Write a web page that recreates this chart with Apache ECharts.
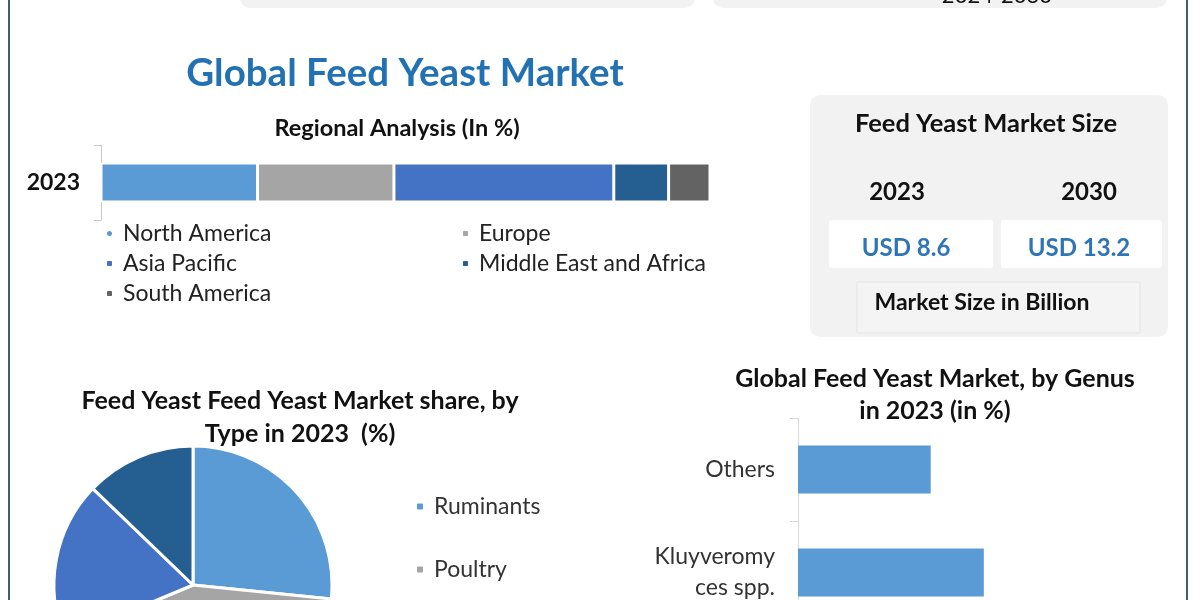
<!DOCTYPE html>
<html>
<head>
<meta charset="utf-8">
<script src="https://cdn.jsdelivr.net/npm/echarts@6/dist/echarts.min.js"></script>
<style>
html,body{margin:0;padding:0;background:#fff;overflow:hidden;}
#c{width:1200px;height:720px;}
</style>
</head>
<body>
<div id="c"></div>
<script>
// ---- data ----
var regionYears = ['2023'];
var regionNames = ['North America', 'Europe', 'Asia Pacific', 'Middle East and Africa', 'South America'];
var regionValues = [25.7, 22.4, 36.1, 9.0, 6.8];
var regionColors = ['#5b9bd5', '#a5a5a5', '#4472c4', '#255e91', '#636363'];

var marketYears = ['2023', '2030'];
var marketValues = [8.6, 13.2];

var typeNames = ['Ruminants', 'Poultry', 'Aquaculture', 'Pets'];
var typeValues = [26.6, 42.1, 18.5, 12.8];
var typeColors = ['#5b9bd5', '#a5a5a5', '#4472c4', '#255e91'];

var genusNames = ['Kluyveromy\nces spp.', 'Others'];
var genusValues = [30.8, 22.0];

var FONT = 'Lato, "Open Sans", sans-serif';

var chart = echarts.init(document.getElementById('c'), null, {renderer: 'canvas'});

var regionSeries = regionNames.map(function (n, i) {
  return {
    name: n, type: 'bar', stack: 'r', xAxisIndex: 0, yAxisIndex: 0,
    data: [regionValues[i]], barWidth: 39,
    itemStyle: {color: regionColors[i], borderColor: '#fff', borderWidth: 1.5},
    silent: true
  };
});

var legendText = {fontFamily: FONT, fontSize: 23, color: '#222', padding: [0, 0, 0, 5]};

var option = {
  backgroundColor: '#ffffff',
  animation: false,
  textStyle: {fontFamily: FONT},
  title: [
    {text: 'Global Feed Yeast Market', left: 400, top: 49, textAlign: 'center',
     textStyle: {fontFamily: FONT, fontWeight: 'bold', fontSize: 38.5, color: '#2271b3'}},
    {text: 'Regional Analysis (In %)', left: 392, top: 111, textAlign: 'center',
     textStyle: {fontFamily: FONT, fontWeight: 'bold', fontSize: 23.5, color: '#111'}},
    {text: 'Feed Yeast Feed Yeast Market share, by', left: 295, top: 383, textAlign: 'center',
     textStyle: {fontFamily: FONT, fontWeight: 'bold', fontSize: 25, color: '#111'}},
    {text: 'Type in 2023  (%)', left: 295, top: 416, textAlign: 'center',
     textStyle: {fontFamily: FONT, fontWeight: 'bold', fontSize: 25, color: '#111'}},
    {text: 'Global Feed Yeast Market, by Genus', left: 930, top: 361, textAlign: 'center',
     textStyle: {fontFamily: FONT, fontWeight: 'bold', fontSize: 25, color: '#111'}},
    {text: 'in 2023 (in %)', left: 930, top: 393, textAlign: 'center',
     textStyle: {fontFamily: FONT, fontWeight: 'bold', fontSize: 25, color: '#111'}}
  ],
  legend: [
    {data: [{name: 'North America', icon: 'circle'}, 'Asia Pacific', 'South America'],
     orient: 'vertical', left: 100, top: 217, itemWidth: 7, itemHeight: 7, itemGap: 7,
     selectedMode: false, textStyle: legendText},
    {data: ['Europe', 'Middle East and Africa'],
     orient: 'vertical', left: 456, top: 217, itemWidth: 7, itemHeight: 7, itemGap: 7,
     selectedMode: false, textStyle: legendText},
    {data: ['Ruminants', 'Poultry'],
     orient: 'vertical', left: 410, top: 490, itemWidth: 8, itemHeight: 8, itemGap: 40,
     selectedMode: false, textStyle: {fontFamily: FONT, fontSize: 23, color: '#333', padding: [0, 0, 0, 5]}}
  ],
  grid: [
    {left: 101, width: 609, top: 145, height: 75, containLabel: false},
    {left: 798, width: 362, top: 418, height: 206, containLabel: false}
  ],
  xAxis: [
    {type: 'value', gridIndex: 0, min: 0, max: 100, show: false},
    {type: 'value', gridIndex: 1, min: 0, max: 60, show: false}
  ],
  yAxis: [
    {type: 'category', gridIndex: 0, data: regionYears,
     axisLine: {show: true, lineStyle: {color: '#c8c8c8', width: 1}},
     axisTick: {show: true, length: 7, lineStyle: {color: '#c8c8c8'}},
     axisLabel: {margin: 21, fontFamily: FONT, fontWeight: 'bold', fontSize: 23, color: '#111'},
     splitLine: {show: false}},
    {type: 'category', gridIndex: 1, data: genusNames,
     axisLine: {show: true, lineStyle: {color: '#d9d9d9', width: 1}},
     axisTick: {show: true, length: 8, lineStyle: {color: '#d9d9d9'}},
     axisLabel: {margin: 23, fontFamily: FONT, fontSize: 23, color: '#333', lineHeight: 31, align: 'right',
                 padding: [6, 0, 0, 0]},
     splitLine: {show: false}}
  ],
  series: regionSeries.concat([
    {name: 'Genus', type: 'bar', xAxisIndex: 1, yAxisIndex: 1, data: genusValues,
     barWidth: 48, itemStyle: {color: '#5b9bd5'}, silent: true},
    {name: 'Type', type: 'pie', center: [193, 585], radius: [0, 139], startAngle: 90, clockwise: true,
     data: typeNames.map(function (n, i) { return {name: n, value: typeValues[i], itemStyle: {color: typeColors[i]}}; }),
     label: {show: false}, labelLine: {show: false}, silent: true,
     itemStyle: {borderColor: '#ffffff', borderWidth: 3}}
  ]),
  graphic: [
    // page border lines
    {type: 'line', shape: {x1: 9, y1: 0, x2: 9, y2: 720}, style: {stroke: '#3f5f63', lineWidth: 2}},
    {type: 'line', shape: {x1: 1187, y1: 0, x2: 1187, y2: 720}, style: {stroke: '#3f5f63', lineWidth: 2}},
    // cut-off top boxes
    {type: 'rect', shape: {x: 240, y: -30, width: 455, height: 38, r: 10}, style: {fill: '#f2f2f2'}},
    {type: 'rect', shape: {x: 713, y: -30, width: 454, height: 38, r: 10}, style: {fill: '#f2f2f2'}},
    {type: 'text', style: {text: '2024-2030', x: 997, y: 7, textAlign: 'center', textVerticalAlign: 'bottom',
      font: '22px ' + FONT, fill: '#111'}},
    // market size box
    {type: 'rect', shape: {x: 810, y: 95, width: 358, height: 242, r: 10}, style: {fill: '#f2f2f2'}},
    {type: 'rect', shape: {x: 829, y: 220, width: 164, height: 48, r: 3}, style: {fill: '#ffffff'}},
    {type: 'rect', shape: {x: 1001, y: 220, width: 161, height: 48, r: 3}, style: {fill: '#ffffff'}},
    {type: 'rect', shape: {x: 857, y: 282, width: 283, height: 51}, style: {fill: '#f4f4f4', stroke: '#e4e4e4', lineWidth: 1}},
    {type: 'text', style: {text: 'Feed Yeast Market Size', x: 986, y: 124, textAlign: 'center', textVerticalAlign: 'middle',
      font: 'bold 25.5px ' + FONT, fill: '#111'}},
    {type: 'text', style: {text: marketYears[0], x: 897, y: 192, textAlign: 'center', textVerticalAlign: 'middle',
      font: 'bold 24px ' + FONT, fill: '#111'}},
    {type: 'text', style: {text: marketYears[1], x: 1089, y: 192, textAlign: 'center', textVerticalAlign: 'middle',
      font: 'bold 24px ' + FONT, fill: '#111'}},
    {type: 'text', style: {text: 'USD ' + marketValues[0], x: 906, y: 248, textAlign: 'center', textVerticalAlign: 'middle',
      font: 'bold 24px ' + FONT, fill: '#2f75b5'}},
    {type: 'text', style: {text: 'USD ' + marketValues[1], x: 1079, y: 248, textAlign: 'center', textVerticalAlign: 'middle',
      font: 'bold 24px ' + FONT, fill: '#2f75b5'}},
    {type: 'text', style: {text: 'Market Size in Billion', x: 982, y: 303, textAlign: 'center', textVerticalAlign: 'middle',
      font: 'bold 23px ' + FONT, fill: '#111'}}
  ]
};
chart.setOption(option);
</script>
</body>
</html>
